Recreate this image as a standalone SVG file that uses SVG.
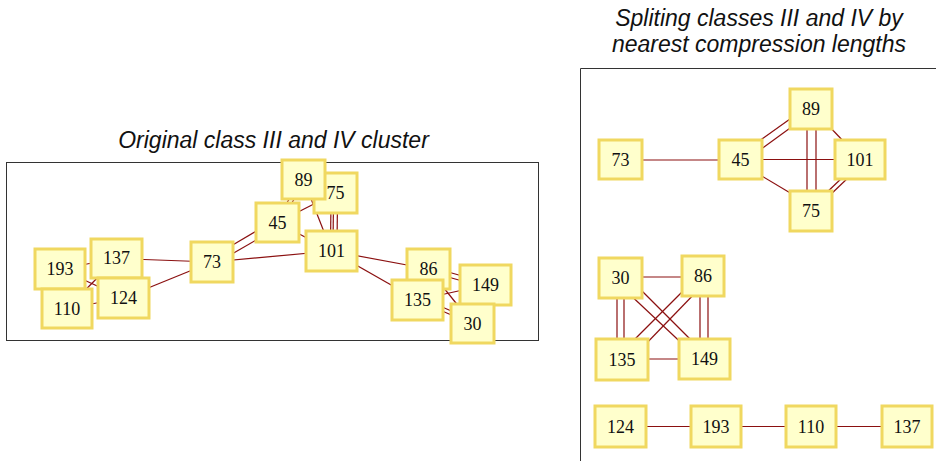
<svg xmlns="http://www.w3.org/2000/svg" width="936" height="461" viewBox="0 0 936 461">
<style>
.title{font-family:"Liberation Sans",Arial,sans-serif;font-style:italic;font-size:23px;fill:#111;text-anchor:middle}
.node rect{fill:#ffffcc;stroke:#f0d860;stroke-width:3}
.node text{font-family:"Liberation Serif","Times New Roman",serif;font-size:18px;fill:#111;text-anchor:middle}
.edges line{stroke:#8b1010;stroke-width:1.2}
.frame{fill:none;stroke:#333;stroke-width:1}
</style>
<rect width="936" height="461" fill="#fff"/>
<text class="title" x="273.5" y="148">Original class III and IV cluster</text>
<text class="title" x="759" y="26">Spliting classes III and IV by</text>
<text class="title" x="759" y="52">nearest compression lengths</text>
<rect class="frame" x="6.5" y="162.5" width="532" height="178"/>
<path class="frame" d="M580.5 461V68.5H936"/>
<g class="edges">
<line x1="60" y1="269" x2="116.5" y2="258.5"/>
<line x1="67" y1="308.5" x2="123.5" y2="298"/>
<line x1="60" y1="269" x2="123.5" y2="298"/>
<line x1="67" y1="308.5" x2="116.5" y2="258.5"/>
<line x1="116.5" y1="258.5" x2="212" y2="262"/>
<line x1="123.5" y1="298" x2="212" y2="262"/>
<line x1="225" y1="249.5" x2="265" y2="226"/>
<line x1="225" y1="258" x2="265" y2="235"/>
<line x1="212" y1="262" x2="331.5" y2="251"/>
<line x1="275" y1="222.5" x2="301" y2="179.5"/>
<line x1="280" y1="222.5" x2="306" y2="179.5"/>
<line x1="277.5" y1="222.5" x2="335.5" y2="193"/>
<line x1="277.5" y1="222.5" x2="331.5" y2="251"/>
<line x1="303.5" y1="179.5" x2="331.5" y2="251"/>
<line x1="331" y1="200" x2="330.5" y2="245"/>
<line x1="333.5" y1="200" x2="333" y2="245"/>
<line x1="337.5" y1="200" x2="337" y2="245"/>
<line x1="331.5" y1="251" x2="428.5" y2="269"/>
<line x1="331.5" y1="251" x2="417.5" y2="300"/>
<line x1="428.5" y1="266.5" x2="485.5" y2="282.5"/>
<line x1="428.5" y1="271.5" x2="485.5" y2="287.5"/>
<line x1="417.5" y1="300" x2="485.5" y2="285"/>
<line x1="428.5" y1="269" x2="472.5" y2="323.5"/>
<line x1="417.5" y1="296.5" x2="472.5" y2="320"/>
<line x1="417.5" y1="300.5" x2="472.5" y2="324"/>
<line x1="620.5" y1="160" x2="740.5" y2="160"/>
<line x1="740.5" y1="159.5" x2="860" y2="159.5"/>
<line x1="755" y1="144" x2="797" y2="114"/>
<line x1="756" y1="153" x2="797" y2="123"/>
<line x1="755" y1="172" x2="797" y2="197"/>
<line x1="807" y1="120" x2="807" y2="200"/>
<line x1="816" y1="120" x2="816" y2="200"/>
<line x1="826" y1="123" x2="846" y2="144"/>
<line x1="822" y1="197" x2="845" y2="175"/>
<line x1="828" y1="197" x2="851" y2="175"/>
<line x1="620.5" y1="277" x2="703" y2="277"/>
<line x1="617" y1="280" x2="617" y2="355"/>
<line x1="624" y1="280" x2="624" y2="355"/>
<line x1="700" y1="280" x2="700" y2="355"/>
<line x1="708" y1="280" x2="708" y2="355"/>
<line x1="622" y1="359" x2="704.5" y2="359"/>
<line x1="625" y1="290" x2="690" y2="351"/>
<line x1="636" y1="285" x2="700" y2="349"/>
<line x1="690" y1="284" x2="627" y2="347"/>
<line x1="700" y1="288" x2="640" y2="350"/>
<line x1="620.5" y1="426.5" x2="907" y2="426.5"/>
</g>
<g id="n193" class="node"><rect x="35" y="249" width="50" height="40"/><text x="60" y="275">193</text></g>
<g id="n110" class="node"><rect x="42" y="289" width="50" height="39"/><text x="67" y="315">110</text></g>
<g id="n137" class="node"><rect x="91" y="239" width="51" height="39"/><text x="116.5" y="264">137</text></g>
<g id="n124" class="node"><rect x="98" y="278" width="51" height="40"/><text x="123.5" y="304">124</text></g>
<g id="n73" class="node"><rect x="191" y="242" width="42" height="40"/><text x="212" y="268">73</text></g>
<g id="n45" class="node"><rect x="256" y="203" width="43" height="39"/><text x="277.5" y="229">45</text></g>
<g id="n75" class="node"><rect x="314" y="173" width="43" height="40"/><text x="335.5" y="199">75</text></g>
<g id="n89" class="node"><rect x="282" y="160" width="43" height="39"/><text x="303.5" y="186">89</text></g>
<g id="n101" class="node"><rect x="306" y="231" width="51" height="40"/><text x="331.5" y="257">101</text></g>
<g id="n86" class="node"><rect x="407" y="249" width="43" height="40"/><text x="428.5" y="275">86</text></g>
<g id="n135" class="node"><rect x="392" y="280" width="51" height="40"/><text x="417.5" y="306">135</text></g>
<g id="n149" class="node"><rect x="460" y="265" width="51" height="40"/><text x="485.5" y="291">149</text></g>
<g id="n30" class="node"><rect x="451" y="304" width="43" height="39"/><text x="472.5" y="330">30</text></g>
<g id="r73" class="node"><rect x="599" y="140" width="43" height="39"/><text x="620.5" y="166">73</text></g>
<g id="r45" class="node"><rect x="719" y="140" width="43" height="39"/><text x="740.5" y="166">45</text></g>
<g id="r89" class="node"><rect x="790" y="89" width="42" height="40"/><text x="811" y="115">89</text></g>
<g id="r101" class="node"><rect x="835" y="140" width="50" height="39"/><text x="860" y="166">101</text></g>
<g id="r75" class="node"><rect x="790" y="191" width="42" height="40"/><text x="811" y="217">75</text></g>
<g id="r30" class="node"><rect x="599" y="258" width="43" height="40"/><text x="620.5" y="284">30</text></g>
<g id="r86" class="node"><rect x="682" y="256" width="42" height="40"/><text x="703" y="282">86</text></g>
<g id="r135" class="node"><rect x="596" y="339" width="52" height="41"/><text x="622" y="365.5">135</text></g>
<g id="r149" class="node"><rect x="679" y="339" width="51" height="40"/><text x="704.5" y="365">149</text></g>
<g id="r124" class="node"><rect x="595" y="406" width="51" height="41"/><text x="620.5" y="432.5">124</text></g>
<g id="r193" class="node"><rect x="691" y="406" width="50" height="41"/><text x="716" y="432.5">193</text></g>
<g id="r110" class="node"><rect x="786" y="406" width="50" height="41"/><text x="811" y="432.5">110</text></g>
<g id="r137" class="node"><rect x="882" y="406" width="50" height="41"/><text x="907" y="432.5">137</text></g>
</svg>
